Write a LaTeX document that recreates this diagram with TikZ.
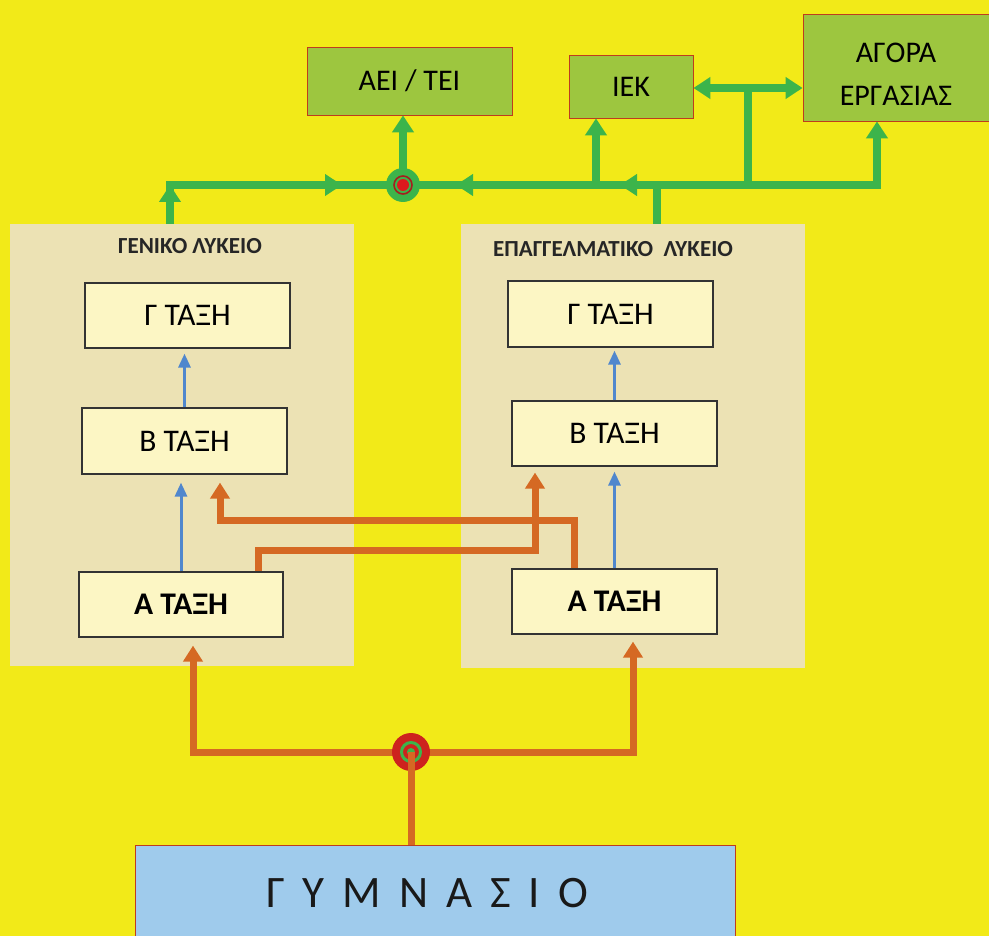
\documentclass[tikz,border=0pt]{standalone}
\usepackage{fontspec}
\setmainfont{Carlito}
\usetikzlibrary{arrows.meta}
\definecolor{bgy}{RGB}{242,234,24}
\definecolor{lgreen}{RGB}{60,180,75}
\definecolor{boxgreen}{RGB}{157,198,63}
\definecolor{boxred}{RGB}{190,60,30}
\definecolor{panel}{RGB}{236,226,180}
\definecolor{cream}{RGB}{252,246,196}
\definecolor{orng}{RGB}{213,105,35}
\definecolor{blu}{RGB}{80,135,205}
\definecolor{gymblue}{RGB}{159,203,236}
\definecolor{ringred}{RGB}{165,30,30}
\definecolor{dotred}{RGB}{220,25,30}
\definecolor{discred}{RGB}{205,35,30}
\begin{document}
\begin{tikzpicture}[x=1pt,y=-1pt,
  gline/.style={draw=lgreen,line width=7.5pt},
  gtip/.style={-{Triangle[width=21pt,length=17pt]}},
  oline/.style={draw=orng,line width=7pt},
  otip/.style={-{Triangle[width=19pt,length=16pt]}},
  bline/.style={draw=blu,line width=3pt,-{Triangle[width=12pt,length=14pt]}},
  gbox/.style={rectangle,draw=boxred,line width=0.8pt,fill=boxgreen,inner sep=0pt,font=\fontsize{30}{36}\selectfont},
  pnl/.style={rectangle,fill=panel,inner sep=0pt},
  cbox/.style={rectangle,draw=black!80,line width=1.2pt,fill=cream,inner sep=0pt,minimum width=205pt,minimum height=65pt,font=\fontsize{31.5}{36}\selectfont},
  abox/.style={cbox,font=\bfseries\fontsize{31.5}{36}\selectfont},
  ttl/.style={font=\bfseries\fontsize{23}{26}\selectfont,text=black!85,inner sep=0pt},
]
\useasboundingbox (0,0) rectangle (989,936);
\fill[bgy] (0,0) rectangle (989,936);

% panels
\node[pnl,minimum width=344pt,minimum height=442pt] (gen) at (182,445) {};
\node[pnl,minimum width=344pt,minimum height=444pt] (epal) at (633,446) {};
\node[ttl] (genT) at (190,246) {ΓΕΝΙΚΟ ΛΥΚΕΙΟ};
\node[ttl] (epalT) at (613,249) {ΕΠΑΓΓΕΛΜΑΤΙΚΟ\ \ ΛΥΚΕΙΟ};

% class boxes
\node[cbox] (gC) at (187.5,315.5) {Γ ΤΑΞΗ};
\node[cbox,minimum height=66pt] (gB) at (184.5,441) {Β ΤΑΞΗ};
\node[abox,minimum width=204pt] (gA) at (181,604.5) {Α ΤΑΞΗ};
\node[cbox,minimum height=66pt] (eC) at (610.5,314) {Γ ΤΑΞΗ};
\node[cbox] (eB) at (614.5,433.5) {Β ΤΑΞΗ};
\node[abox] (eA) at (614.5,601.5) {Α ΤΑΞΗ};

% destination boxes
\node[gbox,minimum width=205pt,minimum height=68pt] (aei) at (409.5,81) {ΑΕΙ / ΤΕΙ};
\node[gbox,minimum width=124pt,minimum height=63pt] (iek) at (631,86.5) {ΙΕΚ};
\node[gbox,minimum width=192pt,minimum height=107pt] (agora) at (899,67.5) {};
\node[font=\fontsize{30}{43}\selectfont,align=center,inner sep=0pt] (agoraT) at (896,74.5) {ΑΓΟΡΑ\\ΕΡΓΑΣΙΑΣ};

% gymnasio
\node[rectangle,draw=boxred,line width=0.8pt,fill=gymblue,minimum width=600pt,minimum height=110pt,inner sep=0pt] (gym) at (435,900) {};
\node[font=\fontsize{45}{50}\selectfont,inner sep=0pt,text=black!90] (gymT) at (427,893) {\spaceskip=18pt\relax Γ Υ Μ Ν Α Σ Ι Ο};

% green network
\coordinate (c1) at (403,185);
\coordinate (xL) at (170,185);
\coordinate (aL) at (342,185);
\coordinate (aR1) at (456,185);
\coordinate (aR2) at (620,185);
\coordinate (xI) at (596,185);
\coordinate (xE) at (657,185);
\coordinate (xD) at (748,185);
\coordinate (dD) at (748,88);
\coordinate (xA) at (877,185);

\draw[gline,gtip] (gen.north -| xL) |- (xA) -- (agora.south -| xA);
\draw[gline,gtip] (gen.north -| xL) -- (xL);
\draw[gline,gtip] (xL) -- (aL);
\draw[gline,gtip] (xE) -- (aR2);
\draw[gline,gtip] (xE) -- (aR1);
\draw[gline,gtip] (c1) -- (aei.south -| c1);
\draw[gline,gtip] (xI) -- (iek.south -| xI);
\draw[gline] (epal.north -| xE) -- (xE);
\draw[gline] (xD) -- (dD);
\draw[gline,{Triangle[width=21pt,length=17pt]}-{Triangle[width=21pt,length=17pt]}] (iek.east |- dD) -- (agora.west |- dD);

\fill[lgreen] (c1) circle[radius=17];
\draw[ringred,line width=1.6pt] (c1) circle[radius=9];
\fill[dotred] (c1) circle[radius=6];

% orange from gymnasio
\coordinate (c2) at (411,752);
\coordinate (oL) at (193,752);
\coordinate (oR) at (633,752);
\draw[oline,otip] (c2) -| ([yshift=-8pt]gA.south -| oL);
\draw[oline,otip] (c2) -| ([yshift=-7pt]eA.south -| oR);
\fill[discred] (c2) circle[radius=19];
\draw[lgreen,line width=3pt] (c2) circle[radius=9.5];
\fill[lgreen] (c2) circle[radius=4];
\draw[oline] (gym.north -| c2) -- (c2);

% orange transfers
\coordinate (p1) at (258,550);
\coordinate (q1) at (535,550);
\coordinate (p2) at (574,520);
\coordinate (q2) at (220,520);
\draw[oline,otip] (gA.north -| p1) |- (q1) -- ([yshift=-6pt]eB.south -| q1);
\draw[oline,otip] (eA.north -| p2) |- (q2) -- ([yshift=-8pt]gB.south -| q2);

% blue progression
\draw[bline] (gB.north) -- ([yshift=-5pt]gC.south -| gB.north);
\draw[bline] (gA.north) -- ([yshift=-8pt]gB.south -| gA.north);
\draw[bline] (eB.north) -- ([yshift=-3pt]eC.south -| eB.north);
\draw[bline] (eA.north) -- ([yshift=-5pt]eB.south -| eA.north);
\end{tikzpicture}
\end{document}
